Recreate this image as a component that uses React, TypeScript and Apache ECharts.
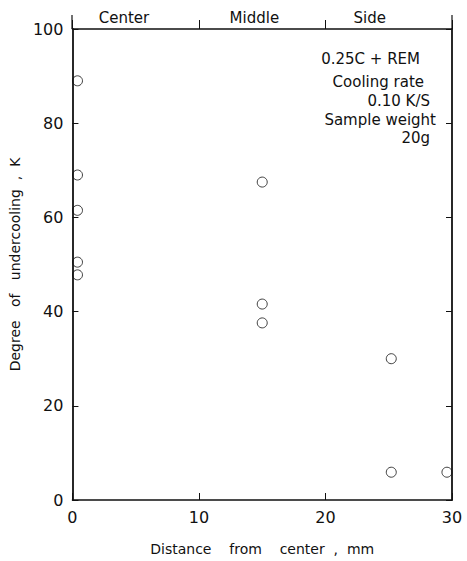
import React, { useEffect, useRef } from "react";
import * as echarts from "echarts";

const distances = [0.4, 0.4, 0.4, 0.4, 0.4, 15, 15, 15, 25.2, 25.2, 29.6];
const undercooling = [89, 69, 61.5, 50.5, 47.8, 67.5, 41.6, 37.6, 30, 5.9, 5.9];
const regions = ["Center", "Middle", "Side"];
const regionCenters = [4.1, 14.4, 23.5];
const noteLines = ["0.25C + REM", "Cooling rate", "0.10 K/S", "Sample weight", "20g"];

const FONT = "DejaVu Sans";
const INK = "#111";

export default function App() {
  const ref = useRef<HTMLDivElement>(null);
  useEffect(() => {
    if (!ref.current) return;
    const chart = echarts.init(ref.current, null, { renderer: "svg" });
    const gridLeft = 72, gridTop = 29, gridRight = 467 - 452, gridBottom = 561 - 500;
    const plotW = 452 - 72;
    const toPx = (v: number) => gridLeft + (v / 30) * plotW;
    const noteY = [59, 82, 101, 120, 138];
    const noteRight = [420, 424, 430, 436, 430];
    chart.setOption({
      animation: false,
      backgroundColor: "#fff",
      textStyle: { fontFamily: FONT, color: INK },
      grid: { left: gridLeft, top: gridTop, right: gridRight, bottom: gridBottom },
      xAxis: [
        {
          type: "value", position: "bottom", min: 0, max: 30, interval: 10,
          axisLine: { show: true, onZero: false, lineStyle: { color: INK, width: 1.5 } },
          axisTick: { show: true, inside: true, length: 7, lineStyle: { color: INK } },
          axisLabel: { color: INK, fontSize: 16, fontFamily: FONT, margin: 9 },
          splitLine: { show: false },
          name: "Distance    from    center  ,  mm",
          nameLocation: "middle", nameGap: 42,
          nameTextStyle: { color: INK, fontSize: 14, fontFamily: FONT },
        },
        {
          type: "value", position: "top", min: 0, max: 30, interval: 10,
          axisLine: { show: true, onZero: false, lineStyle: { color: INK, width: 1.5 } },
          axisTick: { show: true, inside: false, length: 9, lineStyle: { color: INK } },
          axisLabel: { show: false },
          splitLine: { show: false },
        },
      ],
      yAxis: [
        {
          type: "value", position: "left", min: 0, max: 100, interval: 20,
          axisLine: { show: true, onZero: false, lineStyle: { color: INK, width: 1.8 } },
          axisTick: { show: true, inside: true, length: 6, lineStyle: { color: INK } },
          axisLabel: { color: INK, fontSize: 16, fontFamily: FONT, margin: 9 },
          splitLine: { show: false },
          name: "Degree   of   undercooling  ,  K",
          nameLocation: "middle", nameGap: 43,
          nameTextStyle: { color: INK, fontSize: 14, fontFamily: FONT },
        },
        {
          type: "value", position: "right", min: 0, max: 100, interval: 20,
          axisLine: { show: true, onZero: false, lineStyle: { color: INK, width: 1.8 } },
          axisTick: { show: true, inside: true, length: 6, lineStyle: { color: INK } },
          axisLabel: { show: false },
          splitLine: { show: false },
        },
      ],
      series: [
        {
          type: "scatter",
          xAxisIndex: 0, yAxisIndex: 0,
          symbol: "circle", symbolSize: 10,
          itemStyle: { color: "rgba(255,255,255,0)", borderColor: INK, borderWidth: 1 },
          data: distances.map((d, i) => [d, undercooling[i]]),
        },
      ],
      graphic: [
        ...regions.map((r, i) => ({
          type: "text", x: toPx(regionCenters[i]), y: 18,
          style: { text: r, textAlign: "center", textVerticalAlign: "middle", fontSize: 15, fontFamily: FONT, fill: INK },
        })),
        { type: "line", shape: { x1: toPx(0), y1: 15, x2: toPx(0), y2: 29 }, style: { stroke: INK, lineWidth: 1.2 } },
        { type: "line", shape: { x1: toPx(30), y1: 15, x2: toPx(30), y2: 29 }, style: { stroke: INK, lineWidth: 1.2 } },
        ...noteLines.map((t, i) => ({
          type: "text", x: noteRight[i], y: noteY[i],
          style: { text: t, textAlign: "right", textVerticalAlign: "middle", fontSize: 15, fontFamily: FONT, fill: INK },
        })),
      ],
    });
    return () => chart.dispose();
  }, []);
  return <div ref={ref} style={{ position: "fixed", left: 0, top: 0, width: 467, height: 561, background: "#fff" }} />;
}
